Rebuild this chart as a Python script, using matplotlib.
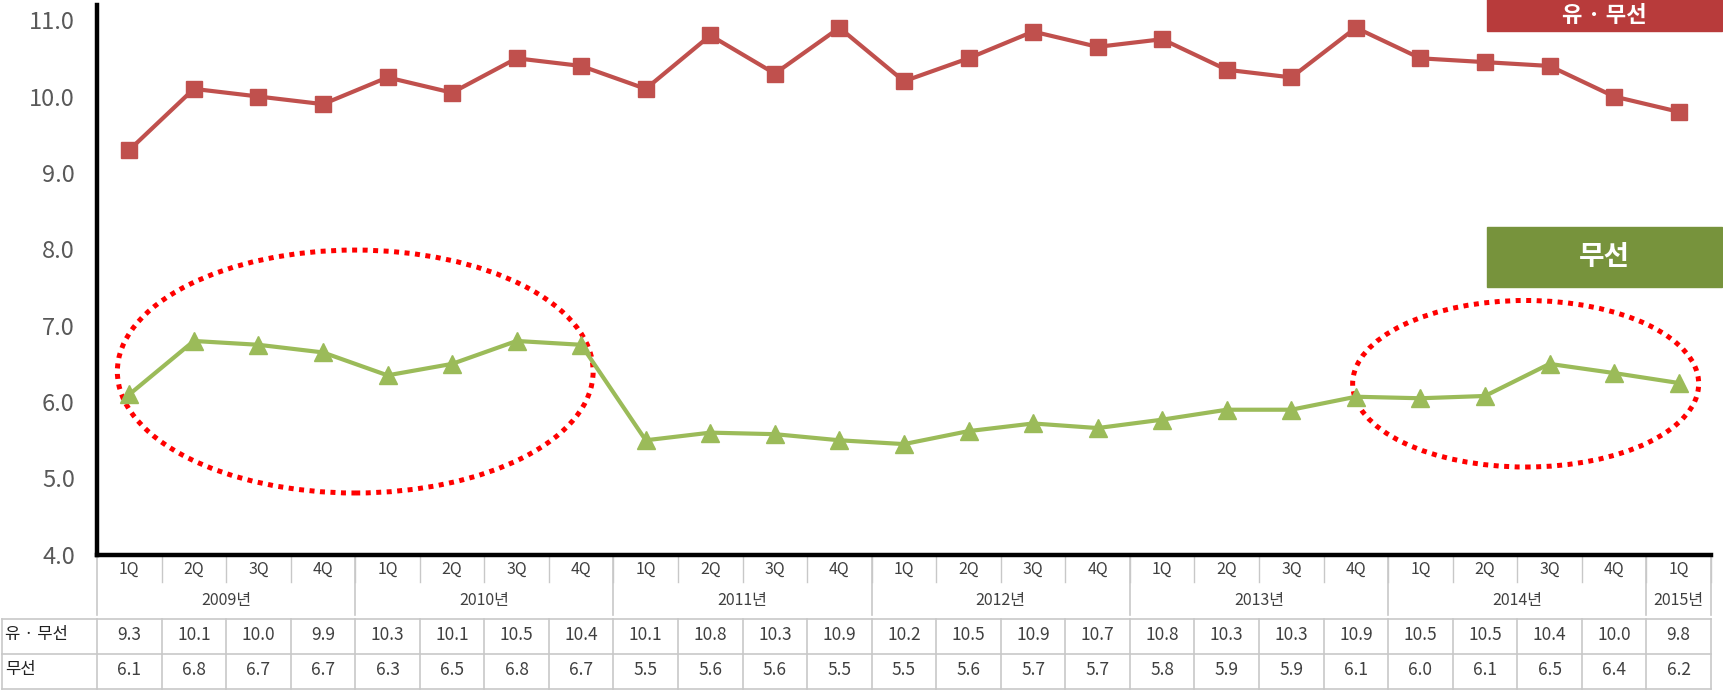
import numpy as np
import matplotlib.pyplot as plt
from matplotlib.patches import Ellipse, Rectangle

plt.rcParams['font.family'] = ['Noto Sans CJK KR', 'DejaVu Sans']

'''data read from the chart'''
quarters = ['1Q', '2Q', '3Q', '4Q'] * 6 + ['1Q']
years = ['2009년', '2010년', '2011년', '2012년', '2013년', '2014년', '2015년']
year_span = [4, 4, 4, 4, 4, 4, 1]
wired_wireless = [9.3, 10.1, 10.0, 9.9, 10.25, 10.05, 10.5, 10.4, 10.1, 10.8, 10.3, 10.9,
                  10.2, 10.5, 10.85, 10.65, 10.75, 10.35, 10.25, 10.9, 10.5, 10.45, 10.4, 10.0, 9.8]
wireless = [6.1, 6.8, 6.75, 6.65, 6.35, 6.5, 6.8, 6.75, 5.5, 5.6, 5.58, 5.5,
            5.45, 5.62, 5.72, 5.66, 5.77, 5.9, 5.9, 6.07, 6.05, 6.08, 6.5, 6.38, 6.25]
table_ww = ['9.3', '10.1', '10.0', '9.9', '10.3', '10.1', '10.5', '10.4', '10.1', '10.8', '10.3', '10.9',
            '10.2', '10.5', '10.9', '10.7', '10.8', '10.3', '10.3', '10.9', '10.5', '10.5', '10.4', '10.0', '9.8']
table_w = ['6.1', '6.8', '6.7', '6.7', '6.3', '6.5', '6.8', '6.7', '5.5', '5.6', '5.6', '5.5',
           '5.5', '5.6', '5.7', '5.7', '5.8', '5.9', '5.9', '6.1', '6.0', '6.1', '6.5', '6.4', '6.2']
row_names = ['유 · 무선', '무선']

fig = plt.figure(figsize=(17.23, 6.91), dpi=100)
ax = fig.add_axes([0.0563, 0.197, 0.9367, 0.796])

x = np.arange(len(quarters))
ax.plot(x, wired_wireless, color='#C0504D', lw=3, marker='s', ms=12, zorder=3)
ax.plot(x, wireless, color='#9BBB59', lw=3, marker='^', ms=13, zorder=3)

'''highlight ellipses'''
for cx, cy, w, h in [(3.5, 6.4, 7.37, 3.18), (21.63, 6.24, 5.36, 2.18)]:
    ax.add_patch(Ellipse((cx, cy), w, h, fill=False, edgecolor='#FF0000', lw=3.6,
                         linestyle=(0, (1, 1.1)), zorder=2))

ax.set_xlim(-0.5, len(quarters) - 0.5)
ax.set_ylim(4.0, 11.2)
ax.set_yticks(np.arange(4, 11.5, 1.0))
ax.set_yticklabels(['%.1f' % v for v in np.arange(4, 11.5, 1.0)], fontsize=17, color='#595959')
ax.set_xticks([])
ax.tick_params(axis='y', length=0, pad=16)
for s in ['top', 'right']:
    ax.spines[s].set_visible(False)
for s in ['left', 'bottom']:
    ax.spines[s].set_linewidth(3.2)
    ax.spines[s].set_color('black')

'''category labels and data table below the axis'''
tr = ax.get_xaxis_transform()
grid_c = '#C8C8C8'
for i, q in enumerate(quarters):
    ax.text(i, -0.026, q, transform=tr, ha='center', va='center', fontsize=11.5, color='#404040')
    ax.plot([i + 0.5, i + 0.5], [0, -0.05], transform=tr, color=grid_c, lw=1, clip_on=False)
start = 0
for yr, n in zip(years, year_span):
    ax.text(start + (n - 1) / 2, -0.083, yr, transform=tr, ha='center', va='center',
            fontsize=11.5, color='#404040')
    ax.plot([start - 0.5, start - 0.5], [0, -0.11], transform=tr, color=grid_c, lw=1.2, clip_on=False)
    start += n
ax.plot([start - 0.5, start - 0.5], [0, -0.11], transform=tr, color=grid_c, lw=1.2, clip_on=False)

row_y = [-0.145, -0.209]
row_top = -0.117
row_h = 0.063
for r, (name, vals) in enumerate(zip(row_names, [table_ww, table_w])):
    y0 = row_top - row_h * r
    ax.text(-1.92, row_y[r], name, transform=tr, ha='left', va='center', fontsize=12, color='#202020')
    for i, v in enumerate(vals):
        ax.text(i, row_y[r], v, transform=tr, ha='center', va='center', fontsize=12.5, color='#404040')
    ax.plot([-1.97, len(quarters) - 0.5], [y0, y0], transform=tr, color=grid_c, lw=1.2, clip_on=False)
ax.plot([-1.97, len(quarters) - 0.5], [row_top - 2 * row_h, row_top - 2 * row_h],
        transform=tr, color=grid_c, lw=1.2, clip_on=False)
for i in range(len(quarters) + 1):
    ax.plot([i - 0.5, i - 0.5], [row_top, row_top - 2 * row_h], transform=tr,
            color=grid_c, lw=1.2, clip_on=False)
ax.plot([-1.97, -1.97], [row_top, row_top - 2 * row_h], transform=tr, color=grid_c, lw=1.2, clip_on=False)

'''legend boxes'''
fig.patches.append(Rectangle((1487 / 1723, 1 - 31 / 691), 235 / 1723, 40 / 691,
                             transform=fig.transFigure, color='#B83B3B', zorder=5))
fig.text(1604 / 1723, 1 - 15 / 691, '유 · 무선', ha='center', va='center', fontsize=16,
         color='white', weight='bold', zorder=6)
fig.patches.append(Rectangle((1487 / 1723, 1 - 287 / 691), 235 / 1723, 60 / 691,
                             transform=fig.transFigure, color='#77933C', zorder=5))
fig.text(1604 / 1723, 1 - 257 / 691, '무선', ha='center', va='center', fontsize=20,
         color='white', weight='bold', zorder=6)

plt.savefig('out.png', dpi=100)
